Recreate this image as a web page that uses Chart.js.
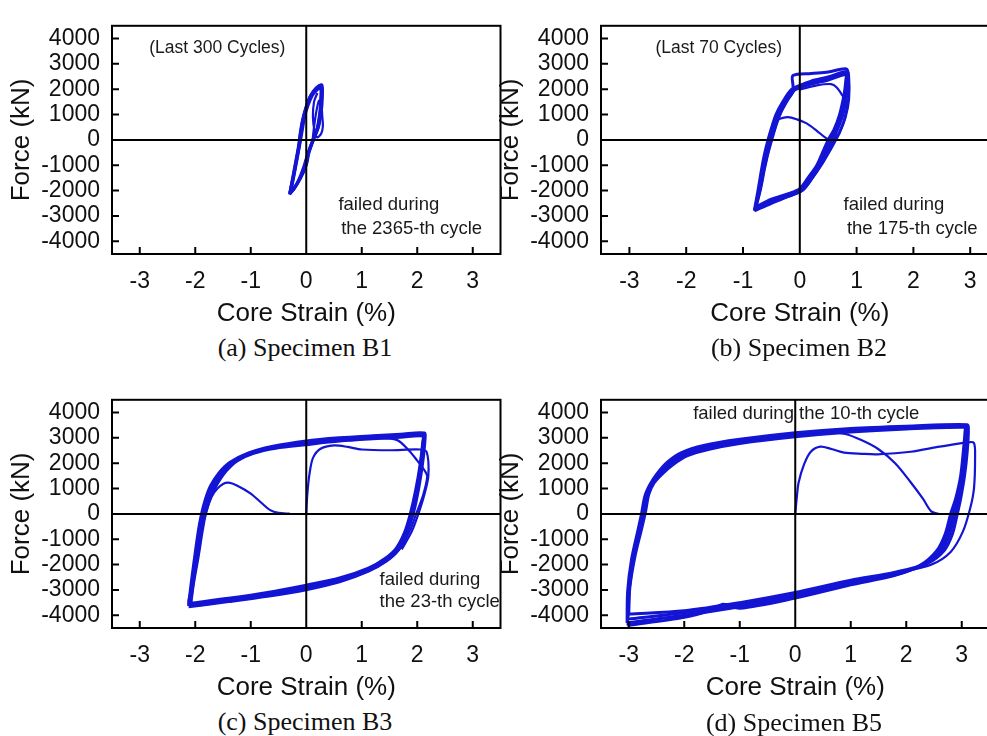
<!DOCTYPE html>
<html>
<head>
<meta charset="utf-8">
<script src="https://cdn.jsdelivr.net/npm/chart.js@4.4.1/dist/chart.umd.min.js"></script>
<style>
  html, body { margin: 0; padding: 0; background: #fff; overflow: hidden; }
  body { width: 987px; height: 736px; position: relative; }
  canvas { position: absolute; }
  .caption {
    position: absolute; width: 300px; height: 30px; line-height: 30px;
    text-align: center; color: #111;
    font-family: "Liberation Serif", "Times New Roman", serif; font-size: 26px;
  }
</style>
</head>
<body>
<canvas id="chartB1" width="505" height="330" style="left:0;top:0"></canvas>
<canvas id="chartB2" width="515" height="330" style="left:489px;top:0"></canvas>
<canvas id="chartB3" width="505" height="330" style="left:0;top:374px"></canvas>
<canvas id="chartB5" width="505" height="330" style="left:489px;top:374px"></canvas>
<div class="caption" style="left:155px;top:333px">(a) Specimen B1</div>
<div class="caption" style="left:649px;top:333px">(b) Specimen B2</div>
<div class="caption" style="left:155px;top:707px">(c) Specimen B3</div>
<div class="caption" style="left:644px;top:708px">(d) Specimen B5</div>
<script>
// axes
const xTickValues = [-3, -2, -1, 0, 1, 2, 3];
const yTickValues = [-4000, -3000, -2000, -1000, 0, 1000, 2000, 3000, 4000];
const strainRange = [-3.5, 3.5];
const forceRange = [-4500, 4500];

// Specimen B1  [core strain %, force kN]
const b1Cycle1 = [[-0.30,-2120],[-0.24,-1500],[-0.18,-800],[-0.13,-200],[-0.10,300],[-0.06,800],[0.00,1300],[0.08,1750],[0.18,2050],[0.28,2170],[0.29,1700],[0.27,1100],[0.22,500],[0.13,0],[0.05,-500],[0.00,-1000],[-0.10,-1500],[-0.21,-1900],[-0.29,-2080]];
const b1Cycle2 = [[-0.29,-2080],[-0.23,-1450],[-0.17,-750],[-0.12,-150],[-0.09,350],[-0.05,850],[0.01,1330],[0.09,1760],[0.19,2040],[0.27,2130],[0.28,1680],[0.26,1080],[0.21,480],[0.12,-20],[0.04,-520],[-0.01,-1020],[-0.11,-1520],[-0.22,-1920],[-0.30,-2150]];
const b1Cycle3 = [[-0.30,-2150],[-0.25,-1550],[-0.19,-850],[-0.14,-250],[-0.11,250],[-0.07,750],[-0.01,1250],[0.07,1700],[0.17,2000],[0.27,2150],[0.27,1650],[0.25,1050],[0.20,450],[0.11,-50],[0.03,-550],[-0.03,-1050],[-0.12,-1550],[-0.22,-1900],[-0.28,-2050]];
const b1Cycle4 = [[-0.28,-2050],[-0.22,-1400],[-0.16,-700],[-0.11,-100],[-0.07,400],[-0.03,900],[0.03,1350],[0.11,1750],[0.20,1980],[0.26,2050],[0.26,1600],[0.24,1000],[0.19,400],[0.11,-80],[0.02,-600],[-0.05,-1100],[-0.14,-1600],[-0.23,-1950],[-0.30,-2100]];
const b1Inner = [[0.11,-80],[0.14,500],[0.18,1100],[0.23,1550],[0.27,1400],[0.29,900],[0.30,550],[0.27,250],[0.20,100],[0.15,350],[0.12,900],[0.14,1500],[0.20,1850]];

// Specimen B2
const b2CycleA = [[-0.80,-2780],[-0.74,-2050],[-0.68,-1250],[-0.63,-650],[-0.56,0],[-0.48,600],[-0.42,1000],[-0.30,1500],[-0.15,1980],[0.00,2150],[0.20,2320],[0.50,2480],[0.83,2700],[0.85,2450],[0.83,1800],[0.76,1000],[0.66,400],[0.58,0],[0.47,-500],[0.36,-1000],[0.21,-1520],[0.04,-2000],[-0.20,-2220],[-0.50,-2470],[-0.79,-2740]];
const b2CycleB = [[-0.79,-2740],[-0.72,-2000],[-0.65,-1200],[-0.60,-600],[-0.53,0],[-0.45,600],[-0.39,1000],[-0.28,1500],[-0.13,1980],[0.00,2100],[0.20,2260],[0.50,2420],[0.82,2640],[0.83,2400],[0.81,1800],[0.73,1000],[0.63,400],[0.54,0],[0.44,-500],[0.33,-1000],[0.18,-1500],[0.02,-1960],[-0.20,-2170],[-0.50,-2400],[-0.78,-2690]];
const b2CycleC = [[-0.78,-2690],[-0.70,-1950],[-0.63,-1150],[-0.57,-550],[-0.50,30],[-0.42,620],[-0.36,1000],[-0.25,1480],[-0.10,1950],[0.00,2050],[0.20,2200],[0.50,2360],[0.81,2580],[0.81,2350],[0.78,1800],[0.70,1000],[0.60,400],[0.50,0],[0.40,-500],[0.30,-1000],[0.15,-1480],[0.00,-1920],[-0.20,-2120],[-0.50,-2340],[-0.77,-2640]];
const b2CycleD = [[-0.77,-2640],[-0.69,-1920],[-0.62,-1120],[-0.56,-520],[-0.49,40],[-0.41,640],[-0.34,1050],[-0.22,1550],[-0.12,1900],[-0.12,2150],[-0.12,2540],[0.20,2620],[0.50,2680],[0.82,2800],[0.86,2500],[0.86,1600],[0.80,900],[0.70,300],[0.63,0],[0.52,-450],[0.38,-980],[0.22,-1500],[0.05,-1980],[-0.20,-2230],[-0.50,-2500],[-0.80,-2800]];
const b2Drop = [[0.00,1980],[0.30,2150],[0.55,2200],[0.65,2070],[0.75,1750],[0.82,1480],[0.80,900],[0.70,300],[0.60,0]];
const b2Final = [[-0.80,-2800],[-0.72,-2050],[-0.65,-1250],[-0.58,-500],[-0.52,150],[-0.47,650],[-0.35,830],[-0.21,900],[-0.05,810],[0.12,650],[0.30,360],[0.45,90],[0.53,0]];

// Specimen B3
const b3Initial = [[0,0],[0.02,800],[0.06,1600],[0.12,2200],[0.25,2560],[0.50,2700],[0.75,2640],[1.00,2540],[1.50,2510],[2.05,2540],[2.17,2440],[2.20,1500],[2.12,700],[2.02,0],[1.90,-700],[1.72,-1400]];
const b3CycleA = [[-2.12,-3640],[-2.08,-2850],[-2.02,-1850],[-1.95,-750],[-1.89,-30],[-1.82,560],[-1.73,1080],[-1.58,1600],[-1.38,2030],[-1.05,2400],[-0.62,2660],[0.00,2880],[0.60,3000],[1.20,3080],[1.70,3140],[2.13,3190],[2.14,2950],[2.10,2050],[2.03,1050],[1.93,20],[1.82,-700],[1.66,-1420],[1.45,-1850],[1.12,-2260],[0.60,-2680],[0.00,-2990],[-0.70,-3250],[-1.40,-3460],[-2.12,-3660]];
const b3CycleB = [[-2.10,-3600],[-2.06,-2800],[-2.00,-1800],[-1.92,-700],[-1.86,0],[-1.79,600],[-1.69,1120],[-1.53,1640],[-1.33,2060],[-1.02,2400],[-0.60,2640],[0.00,2830],[0.60,2950],[1.20,3040],[1.70,3100],[2.12,3150],[2.12,2920],[2.08,2000],[2.01,1000],[1.91,0],[1.81,-700],[1.66,-1400],[1.46,-1820],[1.14,-2220],[0.60,-2630],[0.00,-2930],[-0.70,-3200],[-1.40,-3420],[-2.10,-3620]];
const b3CycleC = [[-2.09,-3560],[-2.04,-2760],[-1.97,-1760],[-1.89,-660],[-1.83,30],[-1.75,640],[-1.64,1160],[-1.48,1680],[-1.28,2080],[-0.98,2400],[-0.58,2620],[0.00,2780],[0.60,2910],[1.20,3000],[1.70,3060],[2.11,3110],[2.11,2880],[2.06,1960],[1.99,960],[1.89,-20],[1.79,-720],[1.64,-1380],[1.44,-1790],[1.14,-2180],[0.60,-2580],[0.00,-2870],[-0.70,-3150],[-1.40,-3370],[-2.09,-3560]];
const b3CycleD = [[-2.08,-3520],[-2.03,-2720],[-1.95,-1720],[-1.87,-620],[-1.81,60],[-1.72,680],[-1.60,1200],[-1.44,1700],[-1.24,2100],[-0.95,2390],[-0.55,2590],[0.00,2730],[0.60,2870],[1.20,2960],[1.70,3020],[2.10,3070],[2.10,2850],[2.05,1920],[1.97,920],[1.87,-40],[1.77,-740],[1.62,-1360],[1.42,-1760],[1.12,-2140],[0.60,-2530],[0.00,-2810],[-0.70,-3100],[-1.40,-3330],[-2.08,-3520]];
const b3Decay = [[1.20,3000],[1.63,2920],[1.85,2500],[2.00,2100],[2.12,1750],[2.18,1480],[2.10,700],[1.98,0],[1.86,-700],[1.68,-1400],[1.45,-1800],[1.10,-2200],[0.50,-2600],[0.00,-2850],[-0.70,-3130],[-1.40,-3370],[-2.10,-3600],[-2.04,-2700],[-1.96,-1700],[-1.88,-600],[-1.80,100],[-1.70,700],[-1.60,1000],[-1.50,1180],[-1.40,1230],[-1.25,1120],[-1.00,800],[-0.80,420],[-0.65,150],[-0.50,40],[-0.30,10]];

// Specimen B5
const b5Initial = [[0,0],[0.03,700],[0.06,1230],[0.16,1960],[0.28,2450],[0.45,2650],[0.65,2560],[0.88,2420],[1.20,2370],[1.48,2350],[2.08,2450],[2.60,2650],[3.10,2820],[3.22,2800],[3.24,2200],[3.22,1000],[3.15,200],[3.02,-700],[2.80,-1500],[2.45,-2000],[1.80,-2350],[1.00,-2750],[0.00,-3250],[-1.00,-3650],[-2.00,-4000],[-3.03,-4300]];
const b5CycleA = [[-3.03,-4300],[-3.02,-3050],[-2.95,-1800],[-2.84,-700],[-2.77,0],[-2.71,700],[-2.62,1150],[-2.50,1560],[-2.30,2050],[-2.05,2420],[-1.65,2700],[-1.00,2940],[0.00,3200],[1.00,3370],[2.00,3460],[3.10,3520],[3.12,3350],[3.10,2500],[3.05,1500],[2.98,600],[2.92,0],[2.83,-800],[2.68,-1450],[2.38,-1950],[1.80,-2300],[1.00,-2620],[0.00,-3100],[-1.00,-3500],[-2.00,-3820],[-3.00,-3950]];
const b5CycleB = [[-3.00,-3950],[-2.98,-2900],[-2.89,-1700],[-2.77,-600],[-2.70,60],[-2.64,760],[-2.55,1200],[-2.41,1550],[-2.20,1950],[-1.95,2290],[-1.55,2550],[-1.00,2780],[0.00,3040],[1.00,3230],[2.00,3350],[3.04,3420],[3.10,3320],[3.08,2500],[3.03,1500],[2.95,600],[2.88,0],[2.78,-800],[2.63,-1450],[2.33,-2000],[1.80,-2360],[1.00,-2700],[0.00,-3180],[-1.00,-3580],[-2.00,-3900],[-3.02,-4150]];
const b5CycleC = [[-3.02,-4150],[-3.00,-3000],[-2.93,-1800],[-2.81,-700],[-2.74,0],[-2.68,720],[-2.59,1170],[-2.46,1540],[-2.26,2010],[-2.01,2370],[-1.61,2650],[-1.00,2880],[0.00,3140],[1.00,3320],[2.00,3420],[3.08,3480],[3.08,3300],[3.05,2500],[3.00,1500],[2.92,600],[2.84,0],[2.74,-800],[2.59,-1450],[2.28,-2020],[1.80,-2400],[1.00,-2760],[0.00,-3260],[-1.00,-3660],[-2.00,-4000],[-3.03,-4300]];
const b5CycleD = [[-3.01,-4050],[-2.99,-2950],[-2.91,-1750],[-2.79,-650],[-2.72,30],[-2.66,740],[-2.57,1180],[-2.44,1530],[-2.23,1980],[-1.98,2330],[-1.58,2590],[-1.00,2820],[0.00,3090],[1.00,3270],[2.00,3380],[3.06,3450],[3.06,3280],[3.03,2500],[2.98,1500],[2.89,600],[2.80,0],[2.70,-800],[2.55,-1450],[2.25,-2030],[1.80,-2420],[1.00,-2800],[0.00,-3320],[-1.00,-3720],[-1.30,-3560],[-1.50,-3780],[-2.00,-4080],[-3.02,-4400]];
const b5Decay = [[-3.02,-4400],[-3.00,-3100],[-2.92,-1800],[-2.80,-650],[-2.73,40],[-2.67,750],[-2.58,1200],[-2.44,1570],[-2.24,2040],[-1.99,2400],[-1.59,2670],[-1.00,2920],[0.00,3180],[0.50,3230],[0.90,3150],[1.20,2900],[1.50,2550],[1.80,2000],[2.08,1250],[2.30,600],[2.45,100],[2.58,0]];

const lineBlue = 'rgb(20,20,212)';
const sans = '"Liberation Sans", Arial, sans-serif';

const framePlugin = {
  id: 'frame',
  afterDatasetsDraw(chart, args, opts) {
    const { ctx, chartArea: a, scales: { x, y } } = chart;
    ctx.save();
    ctx.strokeStyle = '#000';
    ctx.lineWidth = 2;
    const x0 = x.getPixelForValue(0), y0 = y.getPixelForValue(0);
    ctx.beginPath();
    ctx.moveTo(x0, a.top); ctx.lineTo(x0, a.bottom);
    ctx.moveTo(a.left, y0); ctx.lineTo(a.right, y0);
    x.ticks.forEach(t => {
      const px = x.getPixelForValue(t.value);
      ctx.moveTo(px, a.bottom); ctx.lineTo(px, a.bottom - 7);
    });
    y.ticks.forEach(t => {
      const py = y.getPixelForValue(t.value);
      ctx.moveTo(a.left, py); ctx.lineTo(a.left + 7, py);
    });
    ctx.stroke();
    ctx.strokeRect(a.left, a.top, a.right - a.left, a.bottom - a.top);
    ctx.fillStyle = '#1a1a1a';
    ctx.textAlign = 'left';
    ctx.textBaseline = 'middle';
    (opts.notes || []).forEach(n => {
      ctx.font = n.size + 'px ' + sans;
      ctx.fillText(n.text, x.getPixelForValue(n.x), y.getPixelForValue(n.y));
    });
    ctx.restore();
  }
};

// cycles: repeated loops (drawn thicker); singles: one-off paths
function makePanel(id, cycles, singles, notes, padRight) {
  const toSet = (pts, w) => ({
    data: pts.map(p => ({ x: p[0], y: p[1] })),
    showLine: true,
    borderColor: lineBlue,
    borderWidth: w,
    pointRadius: 0,
    tension: 0.3,
    fill: false
  });
  new Chart(document.getElementById(id), {
    type: 'scatter',
    data: {
      datasets: cycles.map(c => toSet(c, 3)).concat(singles.map(s => toSet(s, 2.2)))
    },
    options: {
      responsive: false,
      animation: false,
      events: [],
      layout: { padding: { top: 10, right: padRight, bottom: 0, left: 0 } },
      plugins: { legend: { display: false }, tooltip: { enabled: false }, frame: { notes: notes } },
      scales: {
        x: {
          type: 'linear', min: strainRange[0], max: strainRange[1],
          grid: { display: false, drawTicks: false }, border: { display: false },
          afterBuildTicks: s => { s.ticks = xTickValues.map(v => ({ value: v })); },
          afterFit: s => { s.height = 76; },
          ticks: { color: '#111', padding: 14, maxRotation: 0, autoSkip: false,
                   font: { family: sans, size: 23 }, callback: v => String(v) },
          title: { display: true, text: 'Core Strain (%)', color: '#111',
                   font: { family: sans, size: 26 }, padding: { top: 0, bottom: 1 } }
        },
        y: {
          type: 'linear', min: forceRange[0], max: forceRange[1],
          grid: { display: false, drawTicks: false }, border: { display: false },
          afterBuildTicks: s => { s.ticks = yTickValues.map(v => ({ value: v })); },
          afterFit: s => { s.width = 112; },
          ticks: { color: '#111', padding: 12, autoSkip: false,
                   font: { family: sans, size: 23 }, callback: v => String(v) },
          title: { display: true, text: 'Force (kN)', color: '#111',
                   font: { family: sans, size: 26 }, padding: { top: 6, bottom: 0 } }
        }
      }
    },
    plugins: [framePlugin]
  });
}

makePanel('chartB1', [b1Cycle1, b1Cycle2, b1Cycle3, b1Cycle4], [b1Inner], [
  { text: '(Last 300 Cycles)', x: -2.83, y: 3620, size: 17.5 },
  { text: 'failed during', x: 0.58, y: -2560, size: 18.5 },
  { text: 'the 2365-th cycle', x: 0.63, y: -3520, size: 18.5 }
], 4.5);

makePanel('chartB2', [b2CycleA, b2CycleB, b2CycleC, b2CycleD], [b2Drop, b2Final], [
  { text: '(Last 70 Cycles)', x: -2.54, y: 3620, size: 17.5 },
  { text: 'failed during', x: 0.77, y: -2570, size: 18.5 },
  { text: 'the 175-th cycle', x: 0.83, y: -3520, size: 18.5 }
], 5.4);

makePanel('chartB3', [b3CycleA, b3CycleB, b3CycleC, b3CycleD], [b3Initial, b3Decay], [
  { text: 'failed during', x: 1.32, y: -2600, size: 18.5 },
  { text: 'the 23-th cycle', x: 1.32, y: -3490, size: 18.5 }
], 4.5);

makePanel('chartB5', [b5CycleA, b5CycleB, b5CycleC, b5CycleD], [b5Initial, b5Decay], [
  { text: 'failed during the 10-th cycle', x: -1.84, y: 3950, size: 18.5 }
], 4.5);
</script>
</body>
</html>
